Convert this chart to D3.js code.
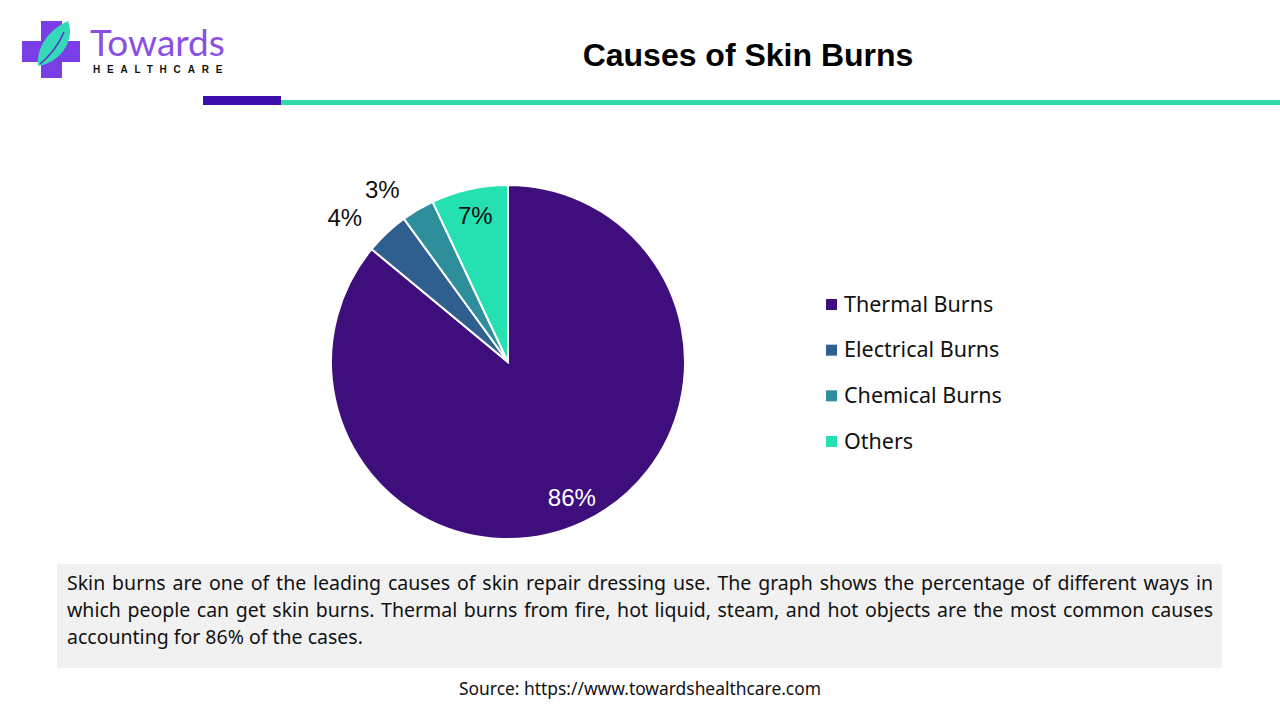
<!DOCTYPE html>
<html><head><meta charset="utf-8">
<script src="https://cdn.jsdelivr.net/npm/d3@7"></script>
<style>html,body{margin:0;padding:0;background:#fff;}svg{display:block;}</style>
</head><body>
<svg id="c" width="1280" height="720"></svg>
<script>
const categories = ["Thermal Burns", "Electrical Burns", "Chemical Burns", "Others"];
const values = [86, 4, 3, 7];
const labels = ["86%", "4%", "3%", "7%"];
const colors = ["#3e0f7c", "#2f5f8f", "#2e8e9b", "#25e0b0"];
const labelInside = [true, false, false, true];
const title = "Causes of Skin Burns";
const descLines = [
  "Skin burns are one of the leading causes of skin repair dressing use. The graph shows the percentage of different ways in",
  "which people can get skin burns. Thermal burns from fire, hot liquid, steam, and hot objects are the most common causes",
  "accounting for 86% of the cases."
];
const source = "Source: https://www.towardshealthcare.com";

const svg = d3.select("#c");

// Logo
const logo = svg.append("g");
logo.append("rect").attr("x", 41).attr("y", 21).attr("width", 21).attr("height", 57).attr("fill", "#7a3ee6");
logo.append("rect").attr("x", 22).attr("y", 41).attr("width", 58).attr("height", 21).attr("fill", "#7a3ee6");
logo.append("path").attr("d", "M38,66 C36,48 48,30 68,21 C74,36 66,56 46,64 Z").attr("fill", "#33d9b8");
logo.append("path").attr("d", "M40,64 C50,56 58,46 64,32").attr("fill", "none").attr("stroke", "#5a2bc9").attr("stroke-width", 1.5);
logo.append("text").attr("x", 90).attr("y", 56).attr("font-family", "Lato, 'Open Sans', sans-serif")
  .attr("font-size", 37).attr("fill", "#8a4fe3").text("Towards");
logo.append("text").attr("x", 93).attr("y", 73).attr("font-family", "'Liberation Sans', Arial, sans-serif")
  .attr("font-weight", "bold").attr("font-size", 10).attr("letter-spacing", 6.8).attr("fill", "#111").text("HEALTHCARE");

// Header line
svg.append("rect").attr("x", 203).attr("y", 96).attr("width", 78).attr("height", 9).attr("fill", "#3b0fab");
svg.append("rect").attr("x", 281).attr("y", 100).attr("width", 999).attr("height", 5).attr("fill", "#2fd9a9");

// Title
svg.append("text").attr("x", 748).attr("y", 66).attr("text-anchor", "middle")
  .attr("font-family", "'Liberation Sans', Arial, sans-serif").attr("font-weight", "bold")
  .attr("font-size", 32).attr("fill", "#000").text(title);

// Pie
const cx = 508, cy = 362, r = 177;
const pie = d3.pie().sort(null).value(d => d)(values);
const arc = d3.arc().innerRadius(0).outerRadius(r);
const g = svg.append("g").attr("transform", `translate(${cx},${cy})`);
g.selectAll("path").data(pie).join("path")
  .attr("d", arc).attr("fill", (d, i) => colors[i])
  .attr("stroke", "#fff").attr("stroke-width", 2);
const inArc = d3.arc().innerRadius(150).outerRadius(150);
const outArc = d3.arc().innerRadius(r + 36).outerRadius(r + 36);
g.selectAll("text.lbl").data(pie).join("text").attr("class", "lbl")
  .each(function (d, i) {
    const p = labelInside[i] ? inArc.centroid(d) : outArc.centroid(d);
    d3.select(this).attr("x", p[0]).attr("y", p[1])
      .attr("text-anchor", labelInside[i] ? "middle" : "end")
      .attr("dy", labelInside[i] ? "0.35em" : "0.8em");
  })
  .attr("font-family", "'Liberation Sans', Arial, sans-serif").attr("font-size", 24)
  .attr("fill", (d, i) => i === 0 ? "#fff" : "#111")
  .text((d, i) => labels[i]);

// Legend
const lg = svg.append("g");
const legY = d3.scalePoint().domain(categories).range([304, 441]);
categories.forEach((c, i) => {
  lg.append("rect").attr("x", 826).attr("y", legY(c) - 5).attr("width", 11).attr("height", 11).attr("fill", colors[i]);
  lg.append("text").attr("x", 844).attr("y", legY(c)).attr("dy", "0.35em")
    .attr("font-family", "'Noto Sans', sans-serif").attr("font-size", 21.5).attr("fill", "#111").text(c);
});

// Description box
svg.append("rect").attr("x", 57).attr("y", 564).attr("width", 1165).attr("height", 104).attr("fill", "#f1f1f1");
const x0 = 67, x1 = 1213;
descLines.forEach((line, i) => {
  const t = svg.append("text").attr("x", x0).attr("y", 590 + i * 27)
    .attr("font-family", "'Noto Sans', sans-serif").attr("font-size", 19.5).attr("fill", "#111").text(line);
  if (i < descLines.length - 1) {
    const w = t.node().getComputedTextLength();
    const gaps = line.split(" ").length - 1;
    t.attr("word-spacing", (x1 - x0 - w) / gaps);
  }
});

// Source
svg.append("text").attr("x", 640).attr("y", 695).attr("text-anchor", "middle")
  .attr("font-family", "'Noto Sans', sans-serif").attr("font-size", 17.4).attr("fill", "#111").text(source);
</script>
</body></html>
